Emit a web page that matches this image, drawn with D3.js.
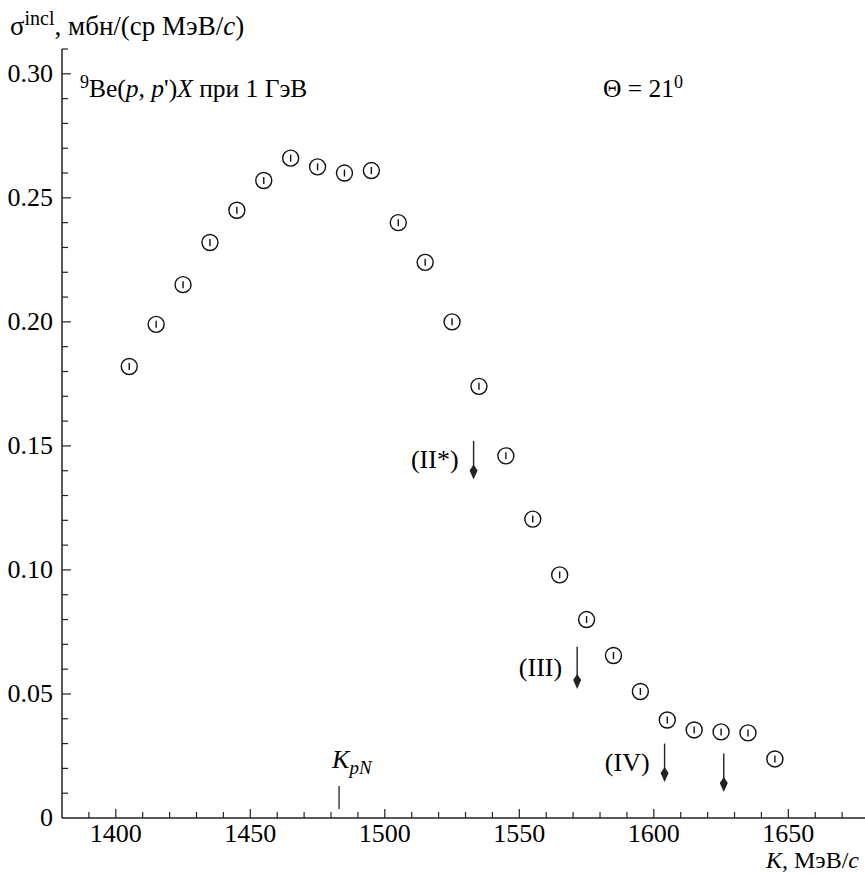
<!DOCTYPE html>
<html>
<head>
<meta charset="utf-8">
<script src="https://cdn.jsdelivr.net/npm/d3@7"></script>
<style>
  body { margin: 0; background: #fff; }
  svg text { font-family: "Liberation Serif", "DejaVu Serif", serif; fill: #000; }
</style>
</head>
<body>
<div id="chart"></div>
<script>
// measured points, K in MeV/c
const kValues = [1405, 1415, 1425, 1435, 1445, 1455, 1465, 1475, 1485, 1495,
  1505, 1515, 1525, 1535, 1545, 1555, 1565, 1575, 1585, 1595,
  1605, 1615, 1625, 1635, 1645];
const sigmaValues = [0.182, 0.199, 0.215, 0.232, 0.245, 0.257, 0.266, 0.2625, 0.260, 0.261,
  0.240, 0.224, 0.200, 0.174, 0.146, 0.1205, 0.098, 0.080, 0.0655, 0.051,
  0.0395, 0.0355, 0.0347, 0.0343, 0.0238];
// arrows: position, top and tip values, label
const arrowK = [1533, 1571.5, 1604, 1626];
const arrowTop = [0.152, 0.069, 0.030, 0.026];
const arrowTip = [0.1365, 0.052, 0.0145, 0.0105];
const arrowLabels = ["(II*)", "(III)", "(IV)", ""];
const kpN = 1483;
const xTicks = [1400, 1450, 1500, 1550, 1600, 1650];
const yTicks = [0, 0.05, 0.10, 0.15, 0.20, 0.25, 0.30];

const width = 865, height = 874;
const margin = { top: 49, right: 0, bottom: 56, left: 62 };

const x = d3.scaleLinear().domain([1380, 1678.5]).range([margin.left, width]);
const y = d3.scaleLinear().domain([0, 0.31]).range([height - margin.bottom, margin.top]);

const svg = d3.select("#chart").append("svg")
  .attr("width", width)
  .attr("height", height);

// X axis
const xAxis = svg.append("g")
  .attr("transform", `translate(0,${y(0)})`);
xAxis.append("line")
  .attr("x1", margin.left).attr("x2", width)
  .attr("stroke", "#222").attr("stroke-width", 1.5);
xAxis.selectAll(".minor")
  .data(d3.range(1390, 1671, 10))
  .join("line")
  .attr("x1", d => x(d)).attr("x2", d => x(d))
  .attr("y1", 0).attr("y2", d => d % 50 === 0 ? -9 : -6)
  .attr("stroke", "#222").attr("stroke-width", 1.2);
xAxis.selectAll("text")
  .data(xTicks)
  .join("text")
  .attr("x", d => x(d)).attr("y", 24)
  .attr("text-anchor", "middle")
  .attr("font-size", 26)
  .text(d => d);

// Y axis
const yAxis = svg.append("g")
  .attr("transform", `translate(${margin.left},0)`);
yAxis.append("line")
  .attr("y1", y(0)).attr("y2", y(0.31))
  .attr("stroke", "#222").attr("stroke-width", 1.5);
yAxis.selectAll(".minor")
  .data(d3.range(1, 32).map(i => i / 100))
  .join("line")
  .attr("y1", d => y(d)).attr("y2", d => y(d))
  .attr("x1", 0).attr("x2", d => Math.round(d * 100) % 5 === 0 ? 9 : 6)
  .attr("stroke", "#222").attr("stroke-width", 1.2);
yAxis.selectAll("text")
  .data(yTicks)
  .join("text")
  .attr("x", -9).attr("y", d => y(d) + 8)
  .attr("text-anchor", "end")
  .attr("font-size", 26)
  .text(d => d === 0 ? "0" : d.toFixed(2));

// axis titles
const yTitle = svg.append("text").attr("x", 10).attr("y", 35).attr("font-size", 27);
yTitle.append("tspan").text("σ");
yTitle.append("tspan").attr("dy", -10).attr("font-size", 20).text("incl");
yTitle.append("tspan").attr("dy", 10).text(", мбн/(ср МэВ/");
yTitle.append("tspan").attr("font-style", "italic").text("c");
yTitle.append("tspan").text(")");

const xTitle = svg.append("text").attr("x", 859).attr("y", 868)
  .attr("text-anchor", "end").attr("font-size", 24);
xTitle.append("tspan").attr("font-style", "italic").text("K");
xTitle.append("tspan").text(", МэВ/");
xTitle.append("tspan").attr("font-style", "italic").text("c");

// reaction label
const title = svg.append("text").attr("x", 80).attr("y", 97).attr("font-size", 25.5);
title.append("tspan").attr("dy", -9).attr("font-size", 18).text("9");
title.append("tspan").attr("dy", 9).text("Be(");
title.append("tspan").attr("font-style", "italic").text("p");
title.append("tspan").text(", ");
title.append("tspan").attr("font-style", "italic").text("p");
title.append("tspan").text("')");
title.append("tspan").attr("font-style", "italic").text("X");
title.append("tspan").text(" при 1 ГэВ");

const theta = svg.append("text").attr("x", 603).attr("y", 97).attr("font-size", 25.5);
theta.append("tspan").text("Θ = 21");
theta.append("tspan").attr("dy", -9).attr("font-size", 18).text("0");

// K_pN marker
svg.append("line")
  .attr("x1", x(kpN)).attr("x2", x(kpN))
  .attr("y1", y(0.0036)).attr("y2", y(0.0129))
  .attr("stroke", "#222").attr("stroke-width", 1.3);
const kLab = svg.append("text").attr("x", x(kpN) - 7).attr("y", y(0.0202))
  .attr("font-size", 26).attr("font-style", "italic");
kLab.append("tspan").text("K");
kLab.append("tspan").attr("dy", 6).attr("font-size", 19).text("pN");

// arrows
const arrows = svg.append("g")
  .selectAll("g")
  .data(arrowK.map((k, i) => ({ k, top: arrowTop[i], tip: arrowTip[i], label: arrowLabels[i] })))
  .join("g")
  .attr("transform", d => `translate(${x(d.k)},0)`);
arrows.append("line")
  .attr("y1", d => y(d.top)).attr("y2", d => y(d.tip) - 4)
  .attr("stroke", "#222").attr("stroke-width", 1.4);
arrows.append("path")
  .attr("d", d => {
    const t = y(d.tip);
    return `M0,${t} L-4,${t - 9} L0,${t - 15} L4,${t - 9} Z`;
  })
  .attr("fill", "#222");
arrows.append("text")
  .attr("x", -15).attr("y", d => y((d.top + d.tip) / 2) + 8)
  .attr("text-anchor", "end")
  .attr("font-size", 26)
  .text(d => d.label);

// data markers
const pts = svg.append("g")
  .selectAll("g")
  .data(kValues.map((k, i) => ({ k, s: sigmaValues[i] })))
  .join("g")
  .attr("transform", d => `translate(${x(d.k)},${y(d.s)})`);
pts.append("circle")
  .attr("r", 8)
  .attr("fill", "none")
  .attr("stroke", "#111")
  .attr("stroke-width", 1.4);
pts.append("line")
  .attr("y1", -3.5).attr("y2", 3.5)
  .attr("stroke", "#111")
  .attr("stroke-width", 1.4);
</script>
</body>
</html>
